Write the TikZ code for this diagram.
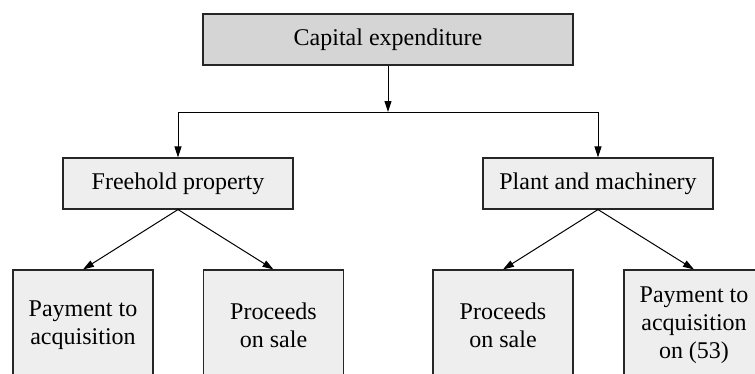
\documentclass[tikz,border=0pt]{standalone}
\usepackage{fontspec}
\setmainfont{Liberation Serif}
\usetikzlibrary{arrows.meta,positioning}

\begin{document}
\begin{tikzpicture}[x=1pt,y=-1pt,
font=\fontsize{24}{28}\selectfont,
topbox/.style={draw=black!85,line width=1.1pt,fill=gray!33,minimum width=370pt,minimum height=51pt},
midbox/.style={draw=black!85,line width=1.1pt,fill=gray!13,minimum width=230pt,minimum height=51pt},
leafbox/.style={draw=black!85,line width=1.1pt,fill=gray!13,align=center,minimum width=140pt,minimum height=110pt},
arr/.style={-{Triangle[length=11pt,width=7pt]},line width=1pt}]
\useasboundingbox (0,0) rectangle (755,373);
\clip (0,0) rectangle (755,373);
\node[topbox](capex) at (388,39.5){Capital expenditure};
\node[midbox](freehold) at (178,183.5){Freehold property};
\node[midbox](plant) at (598,183.5){Plant and machinery};
\node[leafbox](fhpay) at (83,325){Payment to\\acquisition};
\node[leafbox](fhsale) at (273.5,325){Proceeds\\on sale};
\node[leafbox](pmsale) at (503,325){Proceeds\\on sale};
\node[leafbox](pmpay) at (694,325){Payment to\\acquisition\\on (53)};
\coordinate (bus) at (388,112);
\draw[arr](capex)--(bus);
\draw[arr](bus)-|(freehold);
\draw[arr](bus)-|(plant);
\draw[arr](freehold.south)--(fhpay.north);
\draw[arr](freehold.south)--(fhsale.north);
\draw[arr](plant.south)--(pmsale.north);
\draw[arr](plant.south)--(pmpay.north);
\end{tikzpicture}
\end{document}
